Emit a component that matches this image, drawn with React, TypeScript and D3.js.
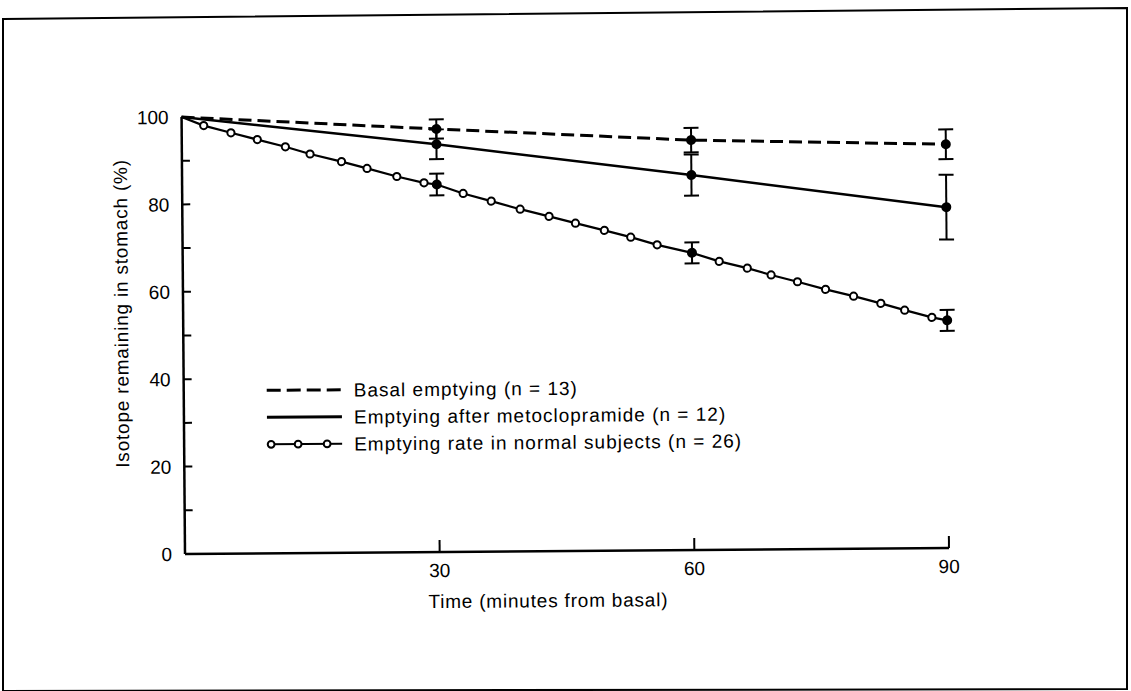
import React from "react";
import * as d3 from "d3";

// ---- data ----
const timePoints = [0, 30, 60, 90];
const basalMean = [100, 96.8, 93.8, 92.4];
const basalErr = [0, 2.2, 2.8, 3.4];
const metoMean = [100, 93.3, 85.8, 78.0];
const metoErr = [0, 3.4, 4.7, 7.4];
const normalMean = [100, 84.1, 68.0, 52.1];
const normalErr = [0, 2.5, 2.4, 2.4];

// small open circles along the normal-subjects curve
const normalCurveTime = [2.6, 5.8, 8.9, 12.2, 15.1, 18.8, 21.8, 25.3, 28.5, 33.1, 36.4, 39.8, 43.2, 46.3, 49.7, 52.8, 55.9, 63.2, 66.5, 69.3, 72.4, 75.7, 79.0, 82.2, 85.0, 88.2];
const normalCurveValue = [98.0, 96.3, 94.7, 93.0, 91.3, 89.5, 87.9, 86.0, 84.5, 82.0, 80.2, 78.3, 76.6, 75.0, 73.3, 71.7, 69.9, 66.0, 64.4, 62.8, 61.2, 59.4, 57.8, 56.1, 54.5, 52.8];

const xTicks = [30, 60, 90];
const yTicks = [0, 10, 20, 30, 40, 50, 60, 70, 80, 90, 100];
const yTickLabels = [0, 20, 40, 60, 80, 100];

const legendLabels = [
  "Basal emptying (n = 13)",
  "Emptying after metoclopramide (n = 12)",
  "Emptying rate in normal subjects (n = 26)",
];

const xLabel = "Time (minutes from basal)";
const yLabel = "Isotope remaining in stomach (%)";

const W = 1131;
const H = 691;
const FONT = "'Liberation Sans', Arial, Helvetica, sans-serif";

export default function App() {
  const x = d3.scaleLinear().domain([0, 90]).range([185, 949]);
  const y = d3.scaleLinear().domain([0, 100]).range([554, 117]);

  const line = d3
    .line<[number, number]>()
    .x((d) => x(d[0]))
    .y((d) => y(d[1]));

  const basalPts: [number, number][] = timePoints.map((t, i) => [t, basalMean[i]]);
  const metoPts: [number, number][] = timePoints.map((t, i) => [t, metoMean[i]]);
  const normalPts: [number, number][] = [
    ...timePoints.map((t, i) => [t, normalMean[i]] as [number, number]),
    ...normalCurveTime.map((t, i) => [t, normalCurveValue[i]] as [number, number]),
  ].sort((a, b) => a[0] - b[0]);

  const errorBars = (means: number[], errs: number[], key: string) =>
    timePoints.map((t, i) => {
      if (errs[i] === 0) return null;
      const cx = x(t);
      const top = y(means[i] + errs[i]);
      const bot = y(means[i] - errs[i]);
      return (
        <g key={key + i} stroke="#000" strokeWidth={2}>
          <line x1={cx} x2={cx} y1={top} y2={bot} />
          <line x1={cx - 7.5} x2={cx + 7.5} y1={top} y2={top} />
          <line x1={cx - 7.5} x2={cx + 7.5} y1={bot} y2={bot} />
        </g>
      );
    });

  const dots = (means: number[], key: string) =>
    timePoints.map((t, i) =>
      i === 0 ? null : <circle key={key + i} cx={x(t)} cy={y(means[i])} r={5} fill="#000" />
    );

  const legendX0 = 268;
  const legendX1 = 343;
  const legendTextX = 355;
  const legendRows = [391, 418, 445];

  return (
    <svg
      width={W}
      height={H}
      style={{ position: "absolute", left: 0, top: 0, background: "#fff" }}
      fontFamily={FONT}
    >
      <rect x={0} y={0} width={W} height={H} fill="#fff" />
      {/* frame */}
      <path d="M3,19 L1127,8 L1127,689 L3,691 Z" fill="none" stroke="#000" strokeWidth={2} />

      <g transform={`rotate(-0.45, ${x(0)}, ${y(0)})`}>
        {/* axes */}
        <line x1={x(0)} x2={x(0)} y1={y(0)} y2={y(100)} stroke="#000" strokeWidth={2.5} />
        <line x1={x(0)} x2={x(90)} y1={y(0)} y2={y(0)} stroke="#000" strokeWidth={2.5} />
        {yTicks.map((v) => (
          <line key={"yt" + v} x1={x(0)} x2={x(0) + 8} y1={y(v)} y2={y(v)} stroke="#000" strokeWidth={2} />
        ))}
        {yTickLabels.map((v) => (
          <text key={"yl" + v} x={x(0) - 13} y={y(v)} dy="0.36em" textAnchor="end" fontSize={19} fill="#000">
            {v}
          </text>
        ))}
        {xTicks.map((v) => (
          <line key={"xt" + v} x1={x(v)} x2={x(v)} y1={y(0)} y2={y(0) - 12} stroke="#000" strokeWidth={2} />
        ))}
        {xTicks.map((v) => (
          <text key={"xl" + v} x={x(v)} y={y(0) + 25} textAnchor="middle" fontSize={19} fill="#000">
            {v}
          </text>
        ))}
        <text x={428} y={y(0) + 56} textAnchor="start" fontSize={19} letterSpacing={0.8} fill="#000">
          {xLabel}
        </text>
        <text
          transform={`translate(123, 313) rotate(-90)`}
          textAnchor="middle"
          dy="0.36em"
          fontSize={19}
          letterSpacing={0.8}
          fill="#000"
        >
          {yLabel}
        </text>

        {/* series lines */}
        <path d={line(basalPts) || ""} fill="none" stroke="#000" strokeWidth={3} strokeDasharray="13 6" />
        <path d={line(metoPts) || ""} fill="none" stroke="#000" strokeWidth={2.5} />
        <path d={line(normalPts) || ""} fill="none" stroke="#000" strokeWidth={2.2} />

        {/* error bars */}
        {errorBars(basalMean, basalErr, "be")}
        {errorBars(metoMean, metoErr, "me")}
        {errorBars(normalMean, normalErr, "ne")}

        {/* open circles */}
        {normalCurveTime.map((t, i) => (
          <circle key={"oc" + i} cx={x(t)} cy={y(normalCurveValue[i])} r={3.6} fill="#fff" stroke="#000" strokeWidth={2} />
        ))}

        {/* filled dots */}
        {dots(basalMean, "bd")}
        {dots(metoMean, "md")}
        {dots(normalMean, "nd")}

        {/* legend */}
        <line x1={legendX0} x2={legendX1} y1={legendRows[0]} y2={legendRows[0]} stroke="#000" strokeWidth={3} strokeDasharray="14 6" />
        <line x1={legendX0} x2={legendX1} y1={legendRows[1]} y2={legendRows[1]} stroke="#000" strokeWidth={3} />
        <line x1={legendX0} x2={legendX1} y1={legendRows[2]} y2={legendRows[2]} stroke="#000" strokeWidth={2} />
        {[272, 299, 328].map((cx, i) => (
          <circle key={"lc" + i} cx={cx} cy={legendRows[2]} r={3.4} fill="#fff" stroke="#000" strokeWidth={2} />
        ))}
        {legendLabels.map((s, i) => (
          <text key={"lg" + i} x={legendTextX} y={legendRows[i]} dy="0.36em" fontSize={19} letterSpacing={1} fill="#000">
            {s}
          </text>
        ))}
      </g>
    </svg>
  );
}
